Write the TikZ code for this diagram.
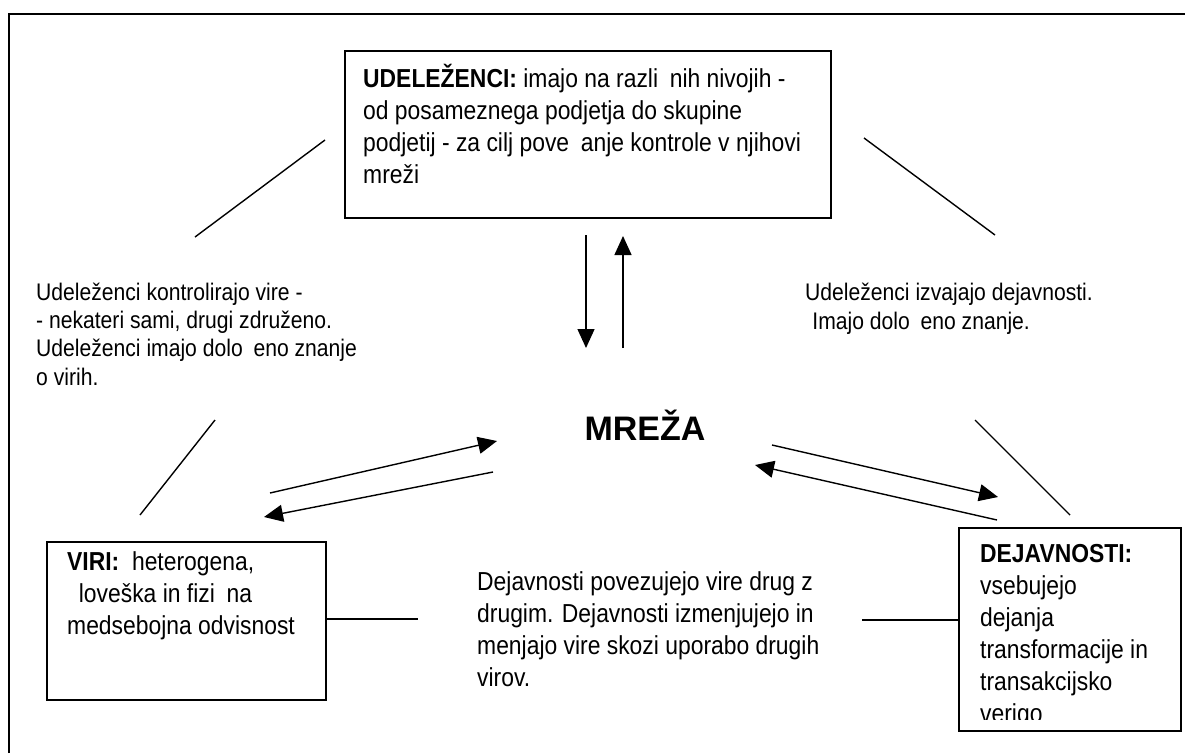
\documentclass[tikz,border=0pt]{standalone}
\usepackage{fontspec}
\setmainfont{Liberation Sans}[FakeStretch=0.88]
\newfontfamily\naslov{Liberation Sans}
\usetikzlibrary{arrows.meta}

% praznina, kjer izvirnik nima znaka
\newcommand{\miss}{\hspace*{0.45em}}

\tikzset{
  okvir/.style={draw, line width=1.8pt, inner sep=0pt, anchor=north west},
  besedilo/.style={inner sep=0pt, anchor=base west, align=left, font=\fontsize{26}{32}\selectfont},
  crta/.style={line width=1.4pt},
  puscica/.style={line width=1.4pt, -{Triangle[length=19pt, width=17pt]}},
}

\begin{document}
\begin{tikzpicture}[x=1pt, y=-1pt, line cap=butt, line join=miter]

  %% ════ zunanji okvir ════
  \draw[line width=2.5pt] (9,753) -- (9,14) -- (1185,14);

  %% ════ okvirji ════
  \node[okvir, minimum width=486pt, minimum height=167pt] (udelezenci) at (344,50) {};
  \node[okvir, minimum width=279pt, minimum height=158pt] (viri) at (46,541) {};
  \node[okvir, minimum width=222pt, minimum height=203pt] (dejavnosti) at (958,527) {};

  %% ════ besedila (sidro = osnovnica zadnje vrstice) ════
  \node[besedilo] (udelezencitxt) at (363,183)
    {\textbf{UDELEŽENCI:} imajo na razli\miss nih nivojih -\\
     od posameznega podjetja do skupine\\
     podjetij - za cilj pove\miss anje kontrole v njihovi\\
     mreži};
  \node[besedilo] (viritxt) at (67,634)
    {\textbf{VIRI:}\ \ heterogena,\\
     \miss loveška in fizi\miss na\\
     medsebojna odvisnost};
  \begin{scope}
    \clip (958,527) rectangle (1180,719);
    \node[besedilo] (dejavnostitxt) at (980,722)
      {\textbf{DEJAVNOSTI:}\\
       vsebujejo\\
       dejanja\\
       transformacije in\\
       transakcijsko\\
       verigo};
  \end{scope}
  \node[besedilo, font=\fontsize{24}{28.3}\selectfont] (levotxt) at (36,385)
    {Udeleženci kontrolirajo vire -\\
     - nekateri sami, drugi združeno.\\
     Udeleženci imajo dolo\miss eno znanje\\
     o virih.};
  \node[besedilo, font=\fontsize{24}{29}\selectfont] (desnotxt) at (805,329)
    {Udeleženci izvajajo dejavnosti.\\
     \hspace*{0.3em}Imajo dolo\miss eno znanje.};
  \node[besedilo, font=\fontsize{26}{31.7}\selectfont] (sredinatxt) at (477,686)
    {Dejavnosti povezujejo vire drug z\\
     drugim. Dejavnosti izmenjujejo in\\
     menjajo vire skozi uporabo drugih\\
     virov.};
  \node[inner sep=0pt, font=\naslov\fontsize{34}{40}\selectfont\bfseries] (mreza) at (645,425) {MREŽA};

  %% ════ prosti konci ════
  \coordinate (ulA) at (195,237);  \coordinate (ulB) at (325,140);
  \coordinate (urA) at (864,138);  \coordinate (urB) at (995,235);
  \coordinate (llA) at (215,420);  \coordinate (llB) at (140,515);
  \coordinate (lrA) at (975,420);  \coordinate (lrB) at (1070,515);
  \coordinate (doli1) at (586,235); \coordinate (doli2) at (586,348);
  \coordinate (gor1) at (623,348);  \coordinate (gor2) at (623,236);
  \coordinate (lp1) at (270,493);   \coordinate (lp2) at (497,441);
  \coordinate (lp3) at (493,472);   \coordinate (lp4) at (264,517);
  \coordinate (dp1) at (772,445);   \coordinate (dp2) at (998,497);
  \coordinate (dp3) at (997,520);   \coordinate (dp4) at (755,465);
  \coordinate (virikonec) at (418,619);
  \coordinate (dejkonec) at (862,620);

  %% ════ črte ════
  \draw[crta] (ulA) -- (ulB);
  \draw[crta] (urA) -- (urB);
  \draw[crta] (llA) -- (llB);
  \draw[crta] (lrA) -- (lrB);
  \draw[crta] (viri.east |- virikonec) -- (virikonec);
  \draw[crta] (dejkonec) -- (dejavnosti.west |- dejkonec);

  %% ════ puščice ════
  \draw[puscica] (doli1) -- (doli2);
  \draw[puscica] (gor1) -- (gor2);
  \draw[puscica] (lp1) -- (lp2);
  \draw[puscica] (lp3) -- (lp4);
  \draw[puscica] (dp1) -- (dp2);
  \draw[puscica] (dp3) -- (dp4);

  \pgfresetboundingbox
  \path[use as bounding box] (0,0) rectangle (1185,753);
\end{tikzpicture}
\end{document}
